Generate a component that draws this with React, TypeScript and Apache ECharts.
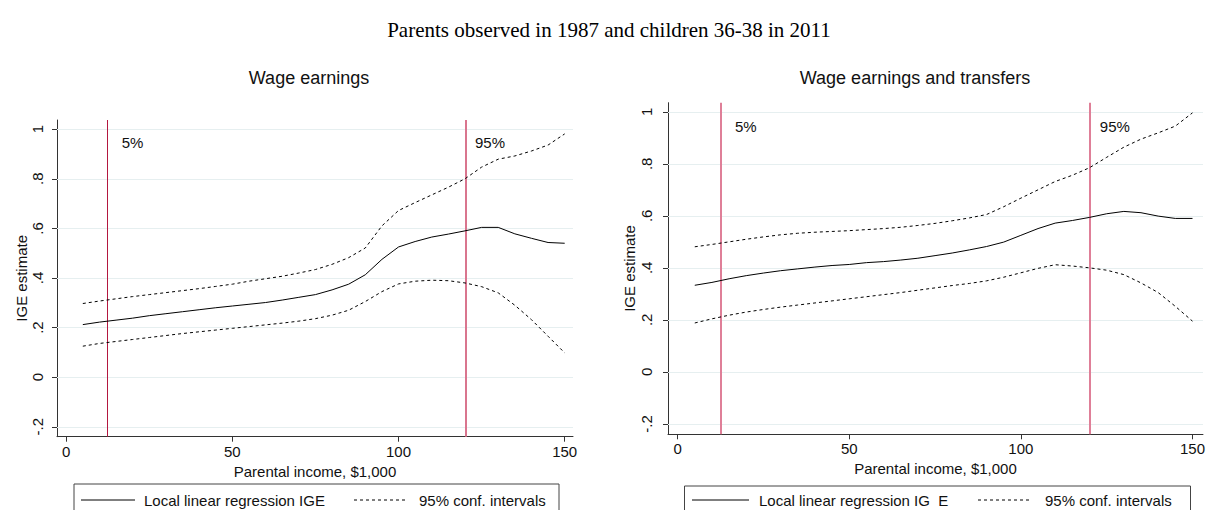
import React, { useEffect, useRef } from "react";
import * as echarts from "echarts";

// Parental income grid ($1,000)
const incomeX = [5, 10, 15, 20, 25, 30, 35, 40, 45, 50, 55, 60, 65, 70, 75, 80, 85, 90, 95, 100, 105, 110, 115, 120, 125, 130, 135, 140, 145, 150];

// Panel 1: Wage earnings
const wageIGE = [0.212, 0.222, 0.230, 0.238, 0.248, 0.256, 0.264, 0.272, 0.280, 0.287, 0.294, 0.301, 0.311, 0.322, 0.333, 0.352, 0.375, 0.413, 0.475, 0.525, 0.547, 0.565, 0.577, 0.590, 0.604, 0.604, 0.578, 0.560, 0.543, 0.540];
const wageUpper = [0.297, 0.307, 0.316, 0.325, 0.333, 0.341, 0.349, 0.357, 0.366, 0.375, 0.387, 0.397, 0.407, 0.420, 0.434, 0.455, 0.482, 0.521, 0.610, 0.672, 0.704, 0.735, 0.766, 0.800, 0.847, 0.879, 0.892, 0.912, 0.936, 0.981];
const wageLower = [0.125, 0.136, 0.144, 0.152, 0.160, 0.168, 0.176, 0.183, 0.190, 0.197, 0.204, 0.211, 0.218, 0.226, 0.236, 0.250, 0.270, 0.305, 0.345, 0.376, 0.387, 0.391, 0.389, 0.380, 0.365, 0.340, 0.290, 0.232, 0.165, 0.098];

// Panel 2: Wage earnings and transfers
const transIGE = [0.333, 0.344, 0.358, 0.370, 0.380, 0.389, 0.396, 0.403, 0.409, 0.413, 0.420, 0.424, 0.430, 0.437, 0.447, 0.457, 0.469, 0.482, 0.499, 0.525, 0.551, 0.572, 0.582, 0.594, 0.608, 0.617, 0.612, 0.599, 0.590, 0.590];
const transUpper = [0.481, 0.490, 0.500, 0.510, 0.519, 0.527, 0.533, 0.537, 0.540, 0.543, 0.547, 0.551, 0.556, 0.563, 0.571, 0.581, 0.592, 0.605, 0.635, 0.668, 0.700, 0.732, 0.756, 0.785, 0.825, 0.864, 0.895, 0.919, 0.945, 0.996];
const transLower = [0.188, 0.204, 0.218, 0.230, 0.240, 0.249, 0.257, 0.265, 0.273, 0.281, 0.289, 0.297, 0.305, 0.314, 0.323, 0.332, 0.340, 0.350, 0.364, 0.381, 0.398, 0.412, 0.407, 0.400, 0.391, 0.374, 0.342, 0.305, 0.252, 0.195];

// Percentile markers of parental income
const percentileValues = [12.5, 120.2];
const percentileLabels = ["5%", "95%"];

// Tick values
const xTicks = [0, 50, 100, 150];
const yTicks = [-0.2, 0, 0.2, 0.4, 0.6, 0.8, 1];

const mainTitle = "Parents observed in 1987 and children 36-38 in 2011";
const panelTitles = ["Wage earnings", "Wage earnings and transfers"];
const legendNames = [
  ["Local linear regression IGE", "95% conf. intervals"],
  ["Local linear regression IG  E", "95% conf. intervals"],
];

const SANS = "'Liberation Sans', Arial, sans-serif";
const SERIF = "'Liberation Serif', 'Times New Roman', serif";

const zip = (xs: number[], ys: number[]) => xs.map((x, i) => [x, ys[i]]);

const yFmt = (v: number) => {
  if (v === 0) return "0";
  if (v === 1) return "1";
  const s = String(Math.round(v * 10) / 10);
  return s.replace("0.", ".");
};

export default function App() {
  const ref = useRef<HTMLDivElement>(null);

  useEffect(() => {
    if (!ref.current) return;
    const chart = echarts.init(ref.current, null, { renderer: "svg" });

    const panels = [
      {
        grid: { left: 57, top: 120, width: 516, height: 316.7 },
        xr: [-2.77, 152.5],
        yr: [-0.24, 1.037],
        data: [wageIGE, wageUpper, wageLower],
        vColors: ["#b3173f", "#d9758e"],
        vWidths: [1, 2],
        yLabelMargin: 12,
        yNameGap: 28,
        xLabelMargin: 7,
        xNameGap: 24,
      },
      {
        grid: { left: 668, top: 102.7, width: 538.8, height: 331.6 },
        xr: [-2.8, 153.05],
        yr: [-0.24, 1.035],
        data: [transIGE, transUpper, transLower],
        vColors: ["#df7f98", "#df7f98"],
        vWidths: [2, 2],
        yLabelMargin: 14,
        yNameGap: 31,
        xLabelMargin: 7,
        xNameGap: 25,
      },
    ];

    const labelX = [16.7, 123];
    const labelY = 0.945;

    const axisLine = { show: true, onZero: false, lineStyle: { color: "#333", width: 1 } };
    const axisTickBase = { show: true, length: 5, lineStyle: { color: "#333", width: 1 } };

    const xAxis = panels.map((p, i) => ({
      type: "value",
      gridIndex: i,
      min: p.xr[0],
      max: p.xr[1],
      axisLine,
      axisTick: { ...axisTickBase, customValues: xTicks },
      axisLabel: {
        customValues: xTicks,
        margin: p.xLabelMargin,
        color: "#111",
        fontSize: 15,
        fontFamily: SANS,
      },
      splitLine: { show: false },
      name: "Parental income, $1,000",
      nameLocation: "middle",
      nameGap: p.xNameGap,
      nameTextStyle: { color: "#111", fontSize: 15, fontFamily: SANS },
    }));

    const yAxis = panels.map((p, i) => ({
      type: "value",
      gridIndex: i,
      min: p.yr[0],
      max: p.yr[1],
      axisLine,
      axisTick: { ...axisTickBase, customValues: yTicks },
      axisLabel: {
        customValues: yTicks,
        rotate: 90,
        margin: p.yLabelMargin,
        color: "#111",
        fontSize: 15,
        fontFamily: SANS,
        formatter: yFmt,
      },
      splitLine: { show: false },
      name: "IGE estimate",
      nameLocation: "middle",
      nameGap: p.yNameGap,
      nameTextStyle: { color: "#111", fontSize: 15, fontFamily: SANS },
    }));

    const series: any[] = [];
    panels.forEach((p, i) => {
      // light horizontal grid lines at the y ticks
      series.push({
        type: "line",
        xAxisIndex: i,
        yAxisIndex: i,
        data: [],
        silent: true,
        markLine: {
          silent: true,
          symbol: ["none", "none"],
          label: { show: false },
          lineStyle: { color: "#e6eff0", width: 1, type: "solid" },
          data: yTicks.map((v) => ({ yAxis: v })),
        },
      });
      // percentile vertical lines
      series.push({
        type: "line",
        xAxisIndex: i,
        yAxisIndex: i,
        data: [],
        silent: true,
        z: 3,
        markLine: {
          silent: true,
          symbol: ["none", "none"],
          label: { show: false },
          data: percentileValues.map((v, k) => ({
            xAxis: v,
            lineStyle: { color: p.vColors[k], width: p.vWidths[k], type: "solid" },
          })),
        },
        markPoint: {
          silent: true,
          symbol: "circle",
          symbolSize: 0,
          data: percentileLabels.map((t, k) => ({
            coord: [labelX[k], labelY],
            label: {
              show: true,
              formatter: t,
              position: "right",
              distance: 0,
              color: "#111",
              fontSize: 15,
              fontFamily: SANS,
            },
          })),
        },
      });
      const [mainV, upV, loV] = p.data;
      series.push({
        type: "line",
        name: "IGE",
        xAxisIndex: i,
        yAxisIndex: i,
        data: zip(incomeX, mainV),
        showSymbol: false,
        z: 5,
        lineStyle: { color: "#000", width: 1, type: "solid" },
      });
      [upV, loV].forEach((arr) => {
        series.push({
          type: "line",
          name: "CI",
          xAxisIndex: i,
          yAxisIndex: i,
          data: zip(incomeX, arr),
          showSymbol: false,
          z: 5,
          lineStyle: { color: "#000", width: 1, type: [3, 3] },
        });
      });
    });

    // legends (boxes with samples)
    const legendBoxes = [
      { x: 74, y: 484, w: 485, sx1: 81, sx2: 135, t1: 144, dx1: 354, dx2: 408, t2: 419, ty: 500 },
      { x: 684.5, y: 486, w: 506, sx1: 692, sx2: 749, t1: 759, dx1: 978, dx2: 1030, t2: 1045, ty: 500 },
    ];
    const graphic: any[] = [];
    legendBoxes.forEach((b, i) => {
      graphic.push({
        type: "rect",
        shape: { x: b.x, y: b.y, width: b.w, height: 40 },
        style: { fill: "#fff", stroke: "#444", lineWidth: 1 },
        silent: true,
      });
      graphic.push({
        type: "line",
        shape: { x1: b.sx1, y1: b.ty, x2: b.sx2, y2: b.ty },
        style: { stroke: "#000", lineWidth: 1 },
      });
      graphic.push({
        type: "line",
        shape: { x1: b.dx1, y1: b.ty, x2: b.dx2, y2: b.ty },
        style: { stroke: "#000", lineWidth: 1, lineDash: [3, 3] },
      });
      graphic.push({
        type: "text",
        x: b.t1,
        y: b.ty,
        style: { text: legendNames[i][0], fill: "#111", fontSize: 15, fontFamily: SANS, verticalAlign: "middle" },
      });
      graphic.push({
        type: "text",
        x: b.t2,
        y: b.ty,
        style: { text: legendNames[i][1], fill: "#111", fontSize: 15, fontFamily: SANS, verticalAlign: "middle" },
      });
    });

    chart.setOption({
      animation: false,
      backgroundColor: "#fff",
      title: [
        {
          text: mainTitle,
          left: 604,
          top: 14,
          textAlign: "center",
          textStyle: { fontFamily: SERIF, fontSize: 21, fontWeight: "normal", color: "#000" },
        },
        {
          text: panelTitles[0],
          left: 304,
          top: 64,
          textAlign: "center",
          textStyle: { fontFamily: SANS, fontSize: 18, fontWeight: "normal", color: "#111" },
        },
        {
          text: panelTitles[1],
          left: 910,
          top: 64,
          textAlign: "center",
          textStyle: { fontFamily: SANS, fontSize: 18, fontWeight: "normal", color: "#111" },
        },
      ],
      grid: panels.map((p) => ({ ...p.grid, containLabel: false })),
      xAxis,
      yAxis,
      series,
      graphic,
    } as any);

    return () => chart.dispose();
  }, []);

  return (
    <div
      ref={ref}
      style={{ position: "absolute", left: 0, top: 0, width: 1208, height: 510 }}
    />
  );
}
